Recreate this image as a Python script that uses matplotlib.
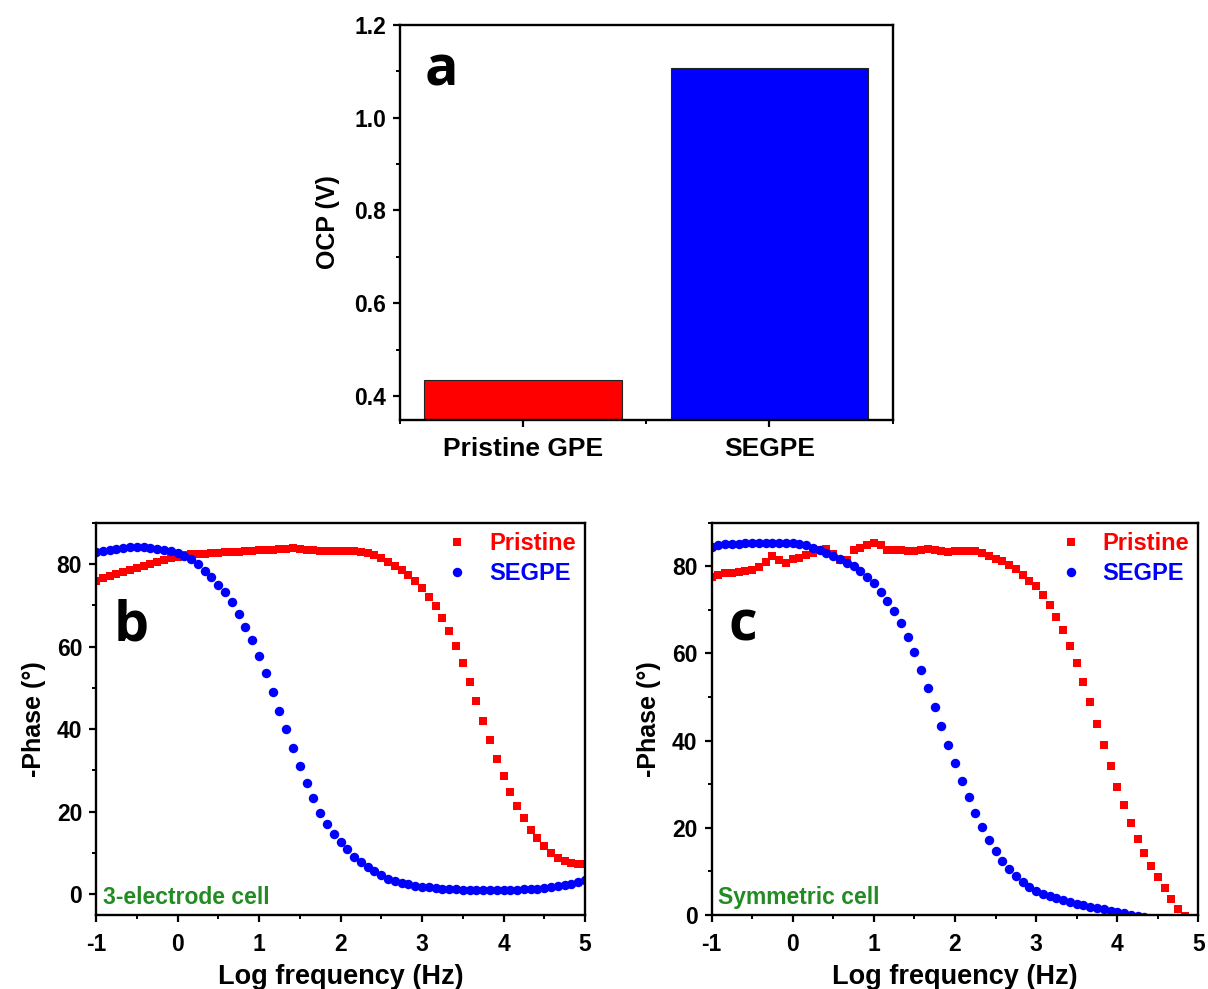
import numpy as np
import matplotlib
matplotlib.use('Agg')
from matplotlib import pyplot as plt
from matplotlib.ticker import MultipleLocator

plt.rcParams['font.family'] = ['Liberation Sans', 'DejaVu Sans']
plt.rcParams['font.weight'] = 'bold'
plt.rcParams['axes.unicode_minus'] = False

# panel a: open circuit potential
ocp_labels = ['Pristine GPE', 'SEGPE']
ocp_values = [0.435, 1.107]
ocp_colors = ['#ff0000', '#0000ff']

# panels b and c: log frequency grid (12 points per decade, 0.1 Hz .. 100 kHz)
logf = np.linspace(-1, 5, 73)

b_pristine = [76.0, 76.6, 77.1, 77.6, 78.1, 78.6, 79.1, 79.6, 80.1, 80.6, 81.0, 81.4,
              81.8, 82.1, 82.3, 82.4, 82.5, 82.6, 82.7, 82.8, 82.9, 83.0, 83.1, 83.2,
              83.3, 83.4, 83.5, 83.6, 83.7, 83.8, 83.6, 83.4, 83.3, 83.2, 83.2, 83.2,
              83.2, 83.2, 83.1, 82.9, 82.6, 82.2, 81.5, 80.6, 79.5, 78.6, 77.4, 75.8,
              74.2, 72.1, 69.8, 67.0, 63.8, 60.1, 56.0, 51.5, 46.9, 42.0, 37.3, 32.9,
              28.6, 24.9, 21.4, 18.4, 15.7, 13.6, 11.7, 10.1, 8.8, 8.0, 7.6, 7.4, 7.3]
b_segpe = [82.8, 83.2, 83.5, 83.7, 83.9, 84.0, 84.0, 84.0, 83.9, 83.7, 83.4, 83.1,
           82.6, 82.0, 81.2, 79.9, 78.2, 76.9, 75.0, 73.1, 70.7, 68.0, 64.8, 61.6,
           57.7, 53.5, 49.1, 44.5, 40.0, 35.4, 31.1, 27.0, 23.4, 19.8, 17.0, 14.6,
           12.6, 10.9, 9.0, 7.8, 6.6, 5.6, 4.6, 3.8, 3.2, 2.8, 2.4, 2.1,
           1.9, 1.7, 1.6, 1.4, 1.3, 1.2, 1.1, 1.0, 1.0, 1.0, 1.0, 1.0,
           1.0, 1.0, 1.1, 1.2, 1.3, 1.4, 1.6, 1.8, 2.0, 2.2, 2.5, 2.9, 3.4]

c_pristine = [77.6, 78.0, 78.4, 78.5, 78.6, 78.9, 79.2, 79.8, 81.0, 82.3, 81.5, 80.8,
              81.6, 82.0, 82.5, 83.0, 83.7, 83.9, 82.8, 81.5, 81.4, 83.7, 84.3, 84.8,
              85.4, 84.8, 83.8, 83.7, 83.7, 83.6, 83.6, 83.7, 83.9, 83.8, 83.5, 83.3,
              83.5, 83.6, 83.5, 83.4, 83.0, 82.4, 81.6, 81.1, 80.3, 79.3, 78.0, 76.7,
              75.4, 73.5, 71.2, 68.4, 65.3, 61.6, 57.8, 53.4, 48.8, 43.9, 39.0, 34.2,
              29.4, 25.2, 21.1, 17.5, 14.2, 11.3, 8.8, 6.2, 3.7, 1.4, -0.3, -2.0, -3.5]
c_segpe = [84.5, 84.8, 85.0, 85.1, 85.2, 85.3, 85.4, 85.4, 85.4, 85.4, 85.4, 85.4,
           85.3, 85.1, 84.8, 84.3, 83.7, 83.0, 82.3, 81.6, 80.8, 80.0, 79.0, 77.5,
           76.1, 74.2, 72.1, 69.8, 67.0, 63.8, 60.3, 56.3, 52.1, 47.8, 43.3, 38.9,
           34.8, 30.8, 27.0, 23.4, 20.1, 17.2, 14.6, 12.5, 10.6, 8.9, 7.5, 6.4,
           5.6, 4.9, 4.3, 3.8, 3.4, 3.0, 2.6, 2.2, 1.9, 1.6, 1.3, 1.0,
           0.7, 0.4, 0.1, -0.2, -0.5, -0.8, -1.1, -1.4, -1.6, -1.8, -2.0, -2.2, -2.5]

green = '#228B22'


def style_axes(ax):
    for s in ax.spines.values():
        s.set_linewidth(1.7)
    ax.tick_params(which='major', direction='out', length=5, width=1.6, labelsize=16.5, pad=5)
    ax.tick_params(which='minor', direction='out', length=3, width=1.4)


fig = plt.figure(figsize=(12.08, 9.89), dpi=100)

# ---- a ----
ax = fig.add_axes([0.331, 0.5753, 0.408, 0.3994])
x = np.arange(len(ocp_labels))
ax.bar(x, ocp_values, width=0.8, color=ocp_colors, edgecolor='#222222', linewidth=0.8)
ax.set_xlim(-0.5, 1.5)
ax.set_ylim(0.348, 1.2)
ax.set_xticks(x)
ax.set_xticklabels(ocp_labels)
ax.xaxis.set_minor_locator(MultipleLocator(0.5))
ax.yaxis.set_minor_locator(MultipleLocator(0.1))
ax.set_yticks([0.4, 0.6, 0.8, 1.0, 1.2])
ax.set_ylabel('OCP (V)', fontsize=18, fontweight='bold', labelpad=10)
style_axes(ax)
ax.tick_params(axis='x', labelsize=19, pad=7)
ax.text(0.05, 0.848, 'a', transform=ax.transAxes, fontsize=40, fontweight='bold',
        family='Open Sans')

# ---- b and c ----
panels = [
    ([0.0795, 0.0748, 0.4048, 0.3967], b_pristine, b_segpe, (-5, 90), 'b', '3-electrode cell'),
    ([0.589, 0.0748, 0.4031, 0.3967], c_pristine, c_segpe, (0, 90), 'c', 'Symmetric cell'),
]
for rect, red, blue, ylim, letter, note in panels:
    ax = fig.add_axes(rect)
    ax.plot(logf, red, 's', color='#ff0000', markersize=6.3, markeredgewidth=0, label='Pristine')
    ax.plot(logf, blue, 'o', color='#0000ff', markersize=6.8, markeredgewidth=0, label='SEGPE')
    ax.set_xlim(-1, 5)
    ax.set_ylim(*ylim)
    ax.xaxis.set_major_locator(MultipleLocator(1))
    ax.xaxis.set_minor_locator(MultipleLocator(0.5))
    ax.yaxis.set_major_locator(MultipleLocator(20))
    ax.yaxis.set_minor_locator(MultipleLocator(10))
    ax.set_xlabel('Log frequency (Hz)', fontsize=19.5, fontweight='bold', labelpad=6)
    ax.set_ylabel('-Phase (°)', fontsize=18, fontweight='bold', labelpad=8)
    style_axes(ax)
    ax.tick_params(axis='x', pad=8)
    ax.legend(loc='upper right', frameon=False, prop={'size': 17, 'weight': 'bold'},
              markerscale=1.0, handlelength=1.6, handletextpad=0.55, labelspacing=0.3,
              borderaxespad=0.1, borderpad=0.3, labelcolor='markerfacecolor')
    ax.text(0.035, 0.70, letter, transform=ax.transAxes, fontsize=40, fontweight='bold',
            family='Open Sans')
    ax.text(0.014, 0.027, note, transform=ax.transAxes, fontsize=16.5, fontweight='bold',
            color=green)

fig.savefig('out.png', dpi=100)
